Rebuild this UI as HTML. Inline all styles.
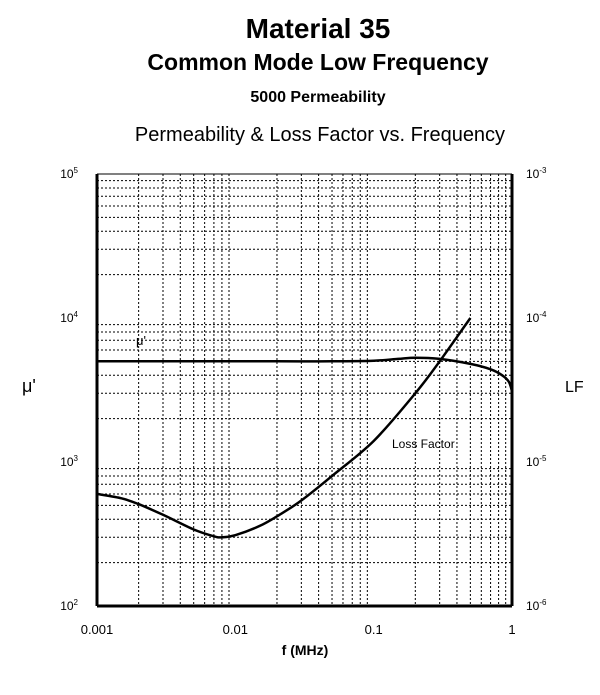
<!DOCTYPE html>
<html><head><meta charset="utf-8"><style>
body{margin:0;background:#fff;width:600px;height:690px;overflow:hidden;font-family:"Liberation Sans",Arial,sans-serif}
svg text{font-family:"Liberation Sans",Arial,sans-serif}
</style></head><body>
<svg id="chart" width="600" height="690" xmlns="http://www.w3.org/2000/svg">
<text x="318" y="38" font-size="28" font-weight="bold" text-anchor="middle">Material 35</text>
<text x="318" y="70" font-size="23" font-weight="bold" text-anchor="middle">Common Mode Low Frequency</text>
<text x="318" y="102" font-size="16" font-weight="bold" text-anchor="middle">5000 Permeability</text>
<text x="320" y="141" font-size="20" text-anchor="middle">Permeability &amp; Loss Factor vs. Frequency</text>
<g id="grid"></g><g id="axes"></g><g id="series"></g>
<text x="22" y="392" font-size="18">μ'</text>
<text x="565" y="392" font-size="16">LF</text>
<text x="305" y="655" font-size="14" font-weight="bold" text-anchor="middle">f (MHz)</text>
<text x="136" y="345" font-size="13">μ'</text>
<text x="392" y="448" font-size="12">Loss Factor</text>
</svg>
<script>
const xTicks=[0.001,0.01,0.1,1];
const xTickLabels=["0.001","0.01","0.1","1"];
const yTickExp=[2,3,4,5];
const y2TickExp=[-6,-5,-4,-3];
const muFreq=[0.001,0.005,0.02,0.05,0.1,0.15,0.2,0.3,0.5,0.7,0.85,0.95,1];
const muVals=[5000,5000,5000,5000,5050,5200,5300,5200,4800,4400,4000,3600,3100];
const lfFreq=[0.001,0.0015,0.002,0.003,0.005,0.007,0.008,0.01,0.015,0.02,0.03,0.05,0.1,0.2,0.3,0.5];
const lfVals=[6e-6,5.6e-6,5.1e-6,4.3e-6,3.4e-6,3.05e-6,3.0e-6,3.1e-6,3.6e-6,4.2e-6,5.4e-6,8e-6,1.4e-5,3e-5,5e-5,1e-4];
const L=97,R=512,T=174,B=606,NS="http://www.w3.org/2000/svg";
const x=f=>L+(Math.log10(f)+3)/3*(R-L);
const y=v=>B-(Math.log10(v)-2)/3*(B-T);
const y2=v=>B-(Math.log10(v)+6)/3*(B-T);
function mk(t,a,p){const e=document.createElementNS(NS,t);for(const k in a)e.setAttribute(k,a[k]);document.getElementById(p).appendChild(e);return e;}
for(let d=-3;d<0;d++)for(let m=2;m<=9;m++){const X=x(m*Math.pow(10,d));
 const e=mk('line',{x1:X,x2:X,y1:T,y2:B,stroke:'#000','stroke-width':1,'stroke-dasharray':'2,2'},'grid');
 
 }
for(let d=2;d<5;d++)for(let m=2;m<=9;m++){const Y=y(m*Math.pow(10,d));
 const e=mk('line',{x1:L,x2:R,y1:Y,y2:Y,stroke:'#000','stroke-width':1,'stroke-dasharray':'2,2'},'grid');
 
 }
[[L,T,R,T,1],[L,T,L,B,3],[R,T,R,B,3],[L,B,R,B,3]].forEach(a=>{
 const e=mk('line',{x1:a[0],y1:a[1],x2:a[2],y2:a[3],stroke:'#000','stroke-width':a[4]},'axes');
 
 });
xTicks.forEach((f,i)=>{const t=mk('text',{x:x(f),y:634,'font-size':13,'text-anchor':'middle'},'axes');t.textContent=xTickLabels[i];
 
 });
yTickExp.forEach(p=>{const t=mk('text',{x:78,y:y(Math.pow(10,p))+4,'font-size':12,'text-anchor':'end'},'axes');
 t.innerHTML='10<tspan dy="-5" font-size="8">'+p+'</tspan>';
 
 });
y2TickExp.forEach(p=>{const t=mk('text',{x:526,y:y2(Math.pow(10,p))+4,'font-size':12},'axes');
 t.innerHTML='10<tspan dy="-5" font-size="8">'+p+'</tspan>';
 
 });
function path(fs,vs,fy){
 const P=fs.map((f,i)=>[x(f),fy(vs[i])]);
 let d='M'+P[0][0].toFixed(1)+','+P[0][1].toFixed(1);
 for(let i=0;i<P.length-1;i++){
  const p0=P[Math.max(0,i-1)],p1=P[i],p2=P[i+1],p3=P[Math.min(P.length-1,i+2)];
  const c1=[p1[0]+(p2[0]-p0[0])/6,p1[1]+(p2[1]-p0[1])/6];
  const c2=[p2[0]-(p3[0]-p1[0])/6,p2[1]-(p3[1]-p1[1])/6];
  d+='C'+c1[0].toFixed(1)+','+c1[1].toFixed(1)+' '+c2[0].toFixed(1)+','+c2[1].toFixed(1)+' '+p2[0].toFixed(1)+','+p2[1].toFixed(1);
 }
 return d;}
const p1=mk('path',{d:path(muFreq,muVals,y),fill:'none',stroke:'#000','stroke-width':2.5,'stroke-linejoin':'round'},'series');


const p2=mk('path',{d:path(lfFreq,lfVals,y2),fill:'none',stroke:'#000','stroke-width':2.5,'stroke-linejoin':'round'},'series');


</script>
</body></html>
